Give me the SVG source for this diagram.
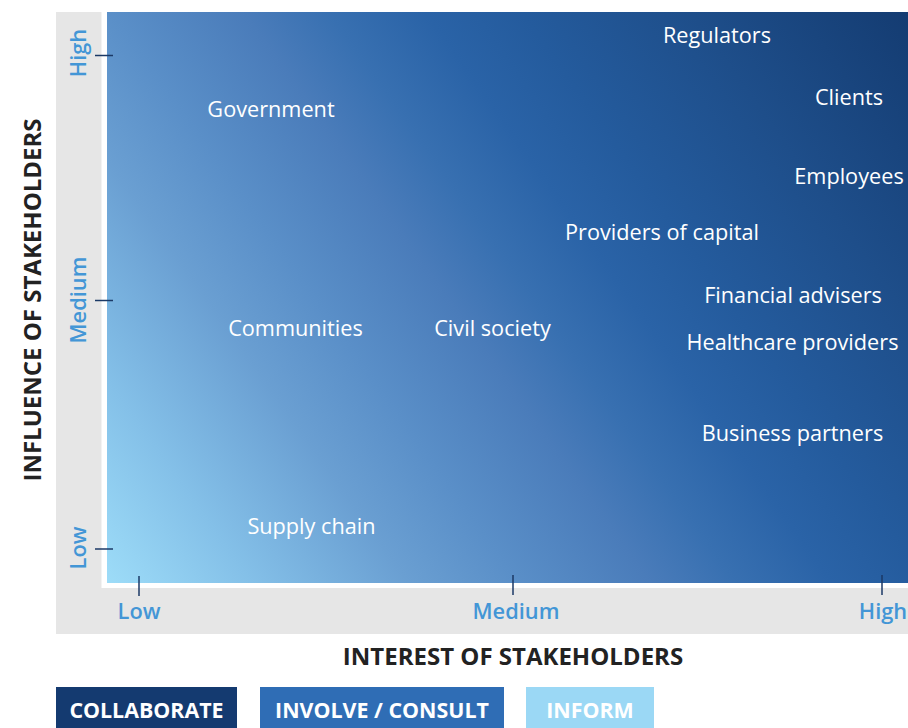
<svg xmlns="http://www.w3.org/2000/svg" width="908" height="728" viewBox="0 0 908 728">
  <defs>
    <linearGradient id="field" gradientUnits="userSpaceOnUse" x1="107" y1="583" x2="908" y2="12">
      <stop offset="0" stop-color="#9ddcf8"/>
      <stop offset="0.12" stop-color="#84c0e8"/>
      <stop offset="0.25" stop-color="#6a9fd2"/>
      <stop offset="0.34" stop-color="#5a8fc8"/>
      <stop offset="0.45" stop-color="#4a7cba"/>
      <stop offset="0.52" stop-color="#3870b1"/>
      <stop offset="0.6" stop-color="#2a63a7"/>
      <stop offset="0.68" stop-color="#245b9d"/>
      <stop offset="0.82" stop-color="#1e4e8a"/>
      <stop offset="1" stop-color="#143c72"/>
    </linearGradient>
  </defs>
  <style>
    .lbl { font-family: "Open Sans", "Liberation Sans", sans-serif; font-size: 21.7px; fill: #ffffff; text-anchor: middle; }
    .tick-lbl { font-family: "Open Sans", "Liberation Sans", sans-serif; font-size: 21.8px; font-weight: 600; fill: #4396d6; text-anchor: middle; }
    .title { font-family: "Open Sans", "Liberation Sans", sans-serif; font-size: 24px; font-weight: bold; fill: #222222; text-anchor: middle; }
    .legend-txt { font-family: "Open Sans", "Liberation Sans", sans-serif; font-size: 21.4px; font-weight: bold; fill: #ffffff; text-anchor: middle; }
    .tick { stroke: #1b3966; stroke-width: 1.5; }
  </style>

  <!-- background panel and plot field -->
  <rect x="56" y="12" width="852" height="622" fill="#e6e6e6"/>
  <rect x="101.5" y="12" width="806.5" height="576" fill="#ffffff"/>
  <rect x="107" y="12" width="801" height="571" fill="url(#field)"/>

  <!-- axis ticks -->
  <g id="ticks">
    <line class="tick" x1="95" y1="55.5" x2="113" y2="55.5"/>
    <line class="tick" x1="95" y1="300.5" x2="113" y2="300.5"/>
    <line class="tick" x1="95" y1="549" x2="113" y2="549"/>
    <line class="tick" x1="139" y1="576" x2="139" y2="596"/>
    <line class="tick" x1="513" y1="575" x2="513" y2="595"/>
    <line class="tick" x1="882" y1="575" x2="882" y2="595"/>
  </g>

  <!-- axis scale labels -->
  <g id="y-scale">
    <text class="tick-lbl" transform="translate(86,53) rotate(-90)">High</text>
    <text class="tick-lbl" transform="translate(86,300) rotate(-90)">Medium</text>
    <text class="tick-lbl" transform="translate(86,548) rotate(-90)">Low</text>
  </g>
  <g id="x-scale">
    <text class="tick-lbl" x="139" y="618.5">Low</text>
    <text class="tick-lbl" x="516" y="618.5">Medium</text>
    <text class="tick-lbl" x="883" y="618.5">High</text>
  </g>

  <!-- axis titles -->
  <text class="title" transform="translate(41,300) rotate(-90)">INFLUENCE OF STAKEHOLDERS</text>
  <text class="title" x="513" y="665">INTEREST OF STAKEHOLDERS</text>

  <!-- stakeholders -->
  <g id="regulators"><text class="lbl" x="717" y="43">Regulators</text></g>
  <g id="clients"><text class="lbl" x="849" y="105">Clients</text></g>
  <g id="government"><text class="lbl" x="271" y="117">Government</text></g>
  <g id="employees"><text class="lbl" x="849" y="184">Employees</text></g>
  <g id="providers-of-capital"><text class="lbl" x="662" y="240">Providers of capital</text></g>
  <g id="financial-advisers"><text class="lbl" x="793" y="303">Financial advisers</text></g>
  <g id="communities"><text class="lbl" x="295.5" y="336">Communities</text></g>
  <g id="civil-society"><text class="lbl" x="492.5" y="336">Civil society</text></g>
  <g id="healthcare-providers"><text class="lbl" x="792.5" y="350">Healthcare providers</text></g>
  <g id="business-partners"><text class="lbl" x="792.5" y="441">Business partners</text></g>
  <g id="supply-chain"><text class="lbl" x="311.5" y="534">Supply chain</text></g>

  <!-- legend -->
  <g id="legend-collaborate">
    <rect x="56" y="687" width="181" height="41" fill="#143a70"/>
    <text class="legend-txt" x="146.5" y="718">COLLABORATE</text>
  </g>
  <g id="legend-involve">
    <rect x="260" y="687" width="244" height="41" fill="#2f6db5"/>
    <text class="legend-txt" x="382" y="718">INVOLVE / CONSULT</text>
  </g>
  <g id="legend-inform">
    <rect x="526" y="687" width="128" height="41" fill="#9bd8f5"/>
    <text class="legend-txt" x="590" y="718">INFORM</text>
  </g>
</svg>
